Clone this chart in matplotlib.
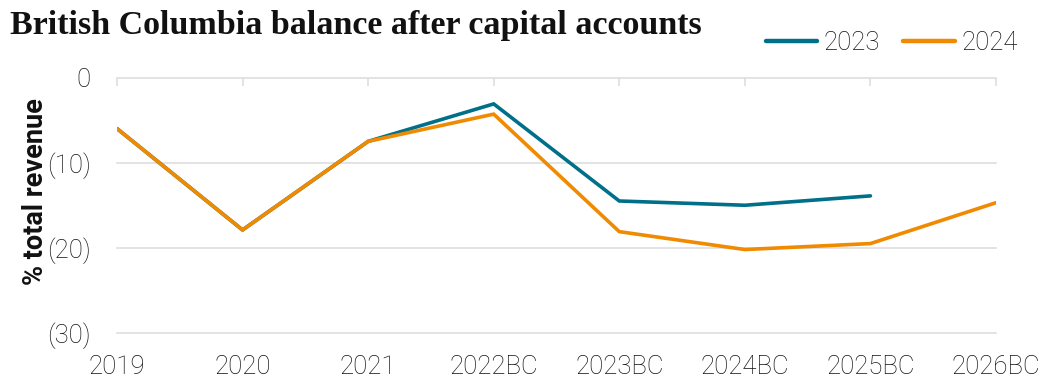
import matplotlib
matplotlib.use("Agg")
import matplotlib.pyplot as plt
from matplotlib.lines import Line2D

categories = ["2019", "2020", "2021", "2022BC", "2023BC", "2024BC", "2025BC", "2026BC"]
series_2023 = [-6.0, -17.9, -7.5, -3.1, -14.5, -15.0, -13.9, None]
series_2024 = [-6.0, -17.9, -7.5, -4.3, -18.1, -20.2, -19.5, -14.7]
y_ticks = [0, -10, -20, -30]
y_tick_labels = ["0", "(10)", "(20)", "(30)"]

teal = "#00708a"
orange = "#f08a00"
grid_col = "#dedede"
text_col = "#111111"

sans = ["Roboto", "DejaVu Sans"]
label_size = 18.5

fig = plt.figure(figsize=(10.46, 3.84), dpi=100)
W, H = 1046, 384
left, right, top, bottom = 117, 996, 77.5, 333
ax = fig.add_axes([left / W, 1 - bottom / H, (right - left) / W, (bottom - top) / H])

x = list(range(len(categories)))
x23 = [i for i, v in zip(x, series_2023) if v is not None]
v23 = [v for v in series_2023 if v is not None]
ax.plot(x23, v23, color=teal, lw=2.6, solid_joinstyle="miter", solid_capstyle="round", zorder=3)
ax.plot(x, series_2024, color=orange, lw=2.6, solid_joinstyle="miter", solid_capstyle="round", zorder=4)

ax.set_xlim(0, len(categories) - 1)
ax.set_ylim(-30, 0)

for s in ["left", "right", "bottom"]:
    ax.spines[s].set_visible(False)
ax.spines["top"].set_color(grid_col)
ax.spines["top"].set_linewidth(1.2)

for yv in y_ticks[1:]:
    ax.axhline(yv, color=grid_col, lw=1.2, zorder=1, clip_on=False)

ax.set_yticks(y_ticks)
ax.set_yticklabels(y_tick_labels, fontfamily=sans, fontsize=label_size, fontweight="light", color=text_col)
ax.tick_params(axis="y", length=0, pad=19)

ax.set_xticks(x)
ax.set_xticklabels(categories, fontfamily=sans, fontsize=label_size, fontweight="light", color=text_col)
ax.tick_params(axis="x", top=True, bottom=False, labeltop=False, labelbottom=True,
               direction="in", length=6, width=1.2, color=grid_col, pad=16)

fig.text(36 / W, 1 - 192 / H, "% total revenue", rotation=90, ha="center", va="center",
         fontfamily=sans, fontsize=19.5, fontweight="bold", color="#111111")

fig.text(10 / W, 1 - 34 / H, "British Columbia balance after capital accounts",
         fontfamily=["Liberation Serif", "DejaVu Serif"], fontsize=24.5, fontweight="bold",
         color="#111111", ha="left", va="baseline")

handles = [Line2D([], [], color=teal, lw=3.2, solid_capstyle="round"),
           Line2D([], [], color=orange, lw=3.2, solid_capstyle="round")]
leg = fig.legend(handles, ["2023", "2024"], loc="center right", bbox_to_anchor=(1028 / W, 1 - 43 / H),
                 ncol=2, frameon=False, prop={"family": sans, "size": label_size, "weight": "light"},
                 handlelength=2.0, handletextpad=0.25, columnspacing=0.9, borderaxespad=0)
for t in leg.get_texts():
    t.set_color(text_col)

fig.savefig("out.png", dpi=100)
